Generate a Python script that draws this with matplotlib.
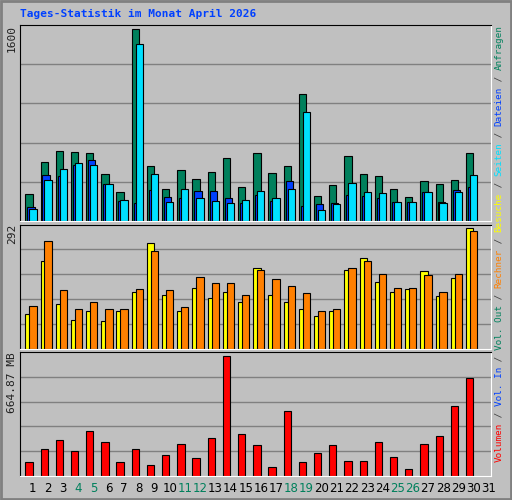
import matplotlib
matplotlib.use("Agg")
import matplotlib.pyplot as plt
import numpy as np

days = [str(d) for d in range(1, 32)]
weekend = ["4", "5", "11", "12", "18", "19", "25", "26"]
hits = [229,496,588,580,571,396,245,1600,463,270,429,354,412,530,287,571,404,463,1056,212,304,546,396,379,270,203,337,312,346,571]
files = [120,387,379,471,513,312,170,153,262,203,195,254,254,195,153,220,170,337,128,145,153,220,212,195,162,162,245,162,262,287]
pages = [103,346,438,488,471,312,178,1474,396,162,270,195,170,153,178,254,195,270,906,95,145,320,245,237,162,162,245,153,245,387]
visits = [83,212,109,68,92,66,92,136,255,131,90,146,122,136,114,195,131,112,97,80,90,190,219,161,136,144,187,127,170,292]
sites = [102,260,141,95,114,97,97,144,236,141,100,173,158,158,129,190,168,151,134,92,97,195,212,182,146,148,178,136,180,285]
volume = [80,152,202,136,247,191,80,152,63,119,175,102,208,665,230,169,52,358,80,130,169,85,85,191,108,41,180,219,386,542]

GREEN, BLUE, CYAN = "#00805C", "#0040FF", "#00E0FF"
YELLOW, ORANGE, RED = "#FFFF00", "#FF8000", "#FF0000"
BG = "#C0C0C0"

W, H = 512, 500
fig = plt.figure(figsize=(W/100, H/100), dpi=100, facecolor=BG)
mono = "DejaVu Sans Mono"

def mkax(top, bottom, ymax):
    ax = fig.add_axes([20/W, 1-bottom/H, 471/W, (bottom-top)/H], facecolor=BG)
    ax.set_xlim(0, 31)
    ax.set_ylim(0, ymax)
    ax.set_xticks([]); ax.set_yticks([])
    for f in (0.2, 0.4, 0.6, 0.8):
        ax.axhline(f*ymax, color="#808080", lw=1, zorder=0)
    for s in ("top", "left"):
        ax.spines[s].set_color("black")
    for s in ("bottom", "right"):
        ax.spines[s].set_color("white")
    return ax

x = np.arange(len(hits))
bw = 0.48
kw = dict(width=bw, align="edge", edgecolor="black", linewidth=0.8)

ax1 = mkax(25, 221, 1636)
ax1.bar(x+0.35, hits, color=GREEN, **kw)
ax1.bar(x+0.48, files, color=BLUE, **kw)
ax1.bar(x+0.61, pages, color=CYAN, **kw)

ax2 = mkax(224.5, 348.5, 301)
ax2.bar(x+0.35, visits, color=YELLOW, **kw)
ax2.bar(x+0.61, sites, color=ORANGE, **kw)

ax3 = mkax(352, 476, 687)
ax3.bar(x+0.35, volume, color=RED, **kw)
ax3.set_xticks(np.arange(31)+0.85)
ax3.set_xticklabels(days, fontsize=8.5, family="DejaVu Sans")
ax3.tick_params(axis="x", length=0, pad=4)
for t in ax3.get_xticklabels():
    t.set_color(GREEN if t.get_text() in weekend else "black")

fig.text(20/W, 1-14/H, "Tages-Statistik im Monat April 2026", color=BLUE,
         fontsize=8, family=mono, fontweight="bold", va="center", ha="left")

for y, s in ((25, "1600"), (224, "292"), (352, "664.87 MB")):
    fig.text(12/W, 1-y/H, s, rotation=90, rotation_mode="anchor", ha="right",
             va="center", fontsize=8, family=mono, color="#202020")

parts = [("Volumen", RED), (" / ", "#404040"), ("Vol. In", BLUE), (" / ", "#404040"),
         ("Vol. Out", GREEN), (" / ", "#404040"), ("Rechner", ORANGE), (" / ", "#404040"),
         ("Besuche", YELLOW), (" / ", "#404040"), ("Seiten", CYAN), (" / ", "#404040"),
         ("Dateien", BLUE), (" / ", "#404040"), ("Anfragen", GREEN)]
total = sum(len(p) for p, _ in parts)
cw = (462-25)/total
pos = 462
for p, c in parts:
    fig.text(499/W, 1-pos/H, p, rotation=90, rotation_mode="anchor", ha="left",
             va="center", fontsize=cw/0.602*72/100, family=mono, color=c)
    pos -= len(p)*cw

fig.patches.append(matplotlib.patches.Rectangle((0.002, 0.002), 0.996, 0.996,
    transform=fig.transFigure, fill=False, edgecolor="#808080", lw=2))
fig.savefig("out.png", dpi=100, facecolor=BG)
